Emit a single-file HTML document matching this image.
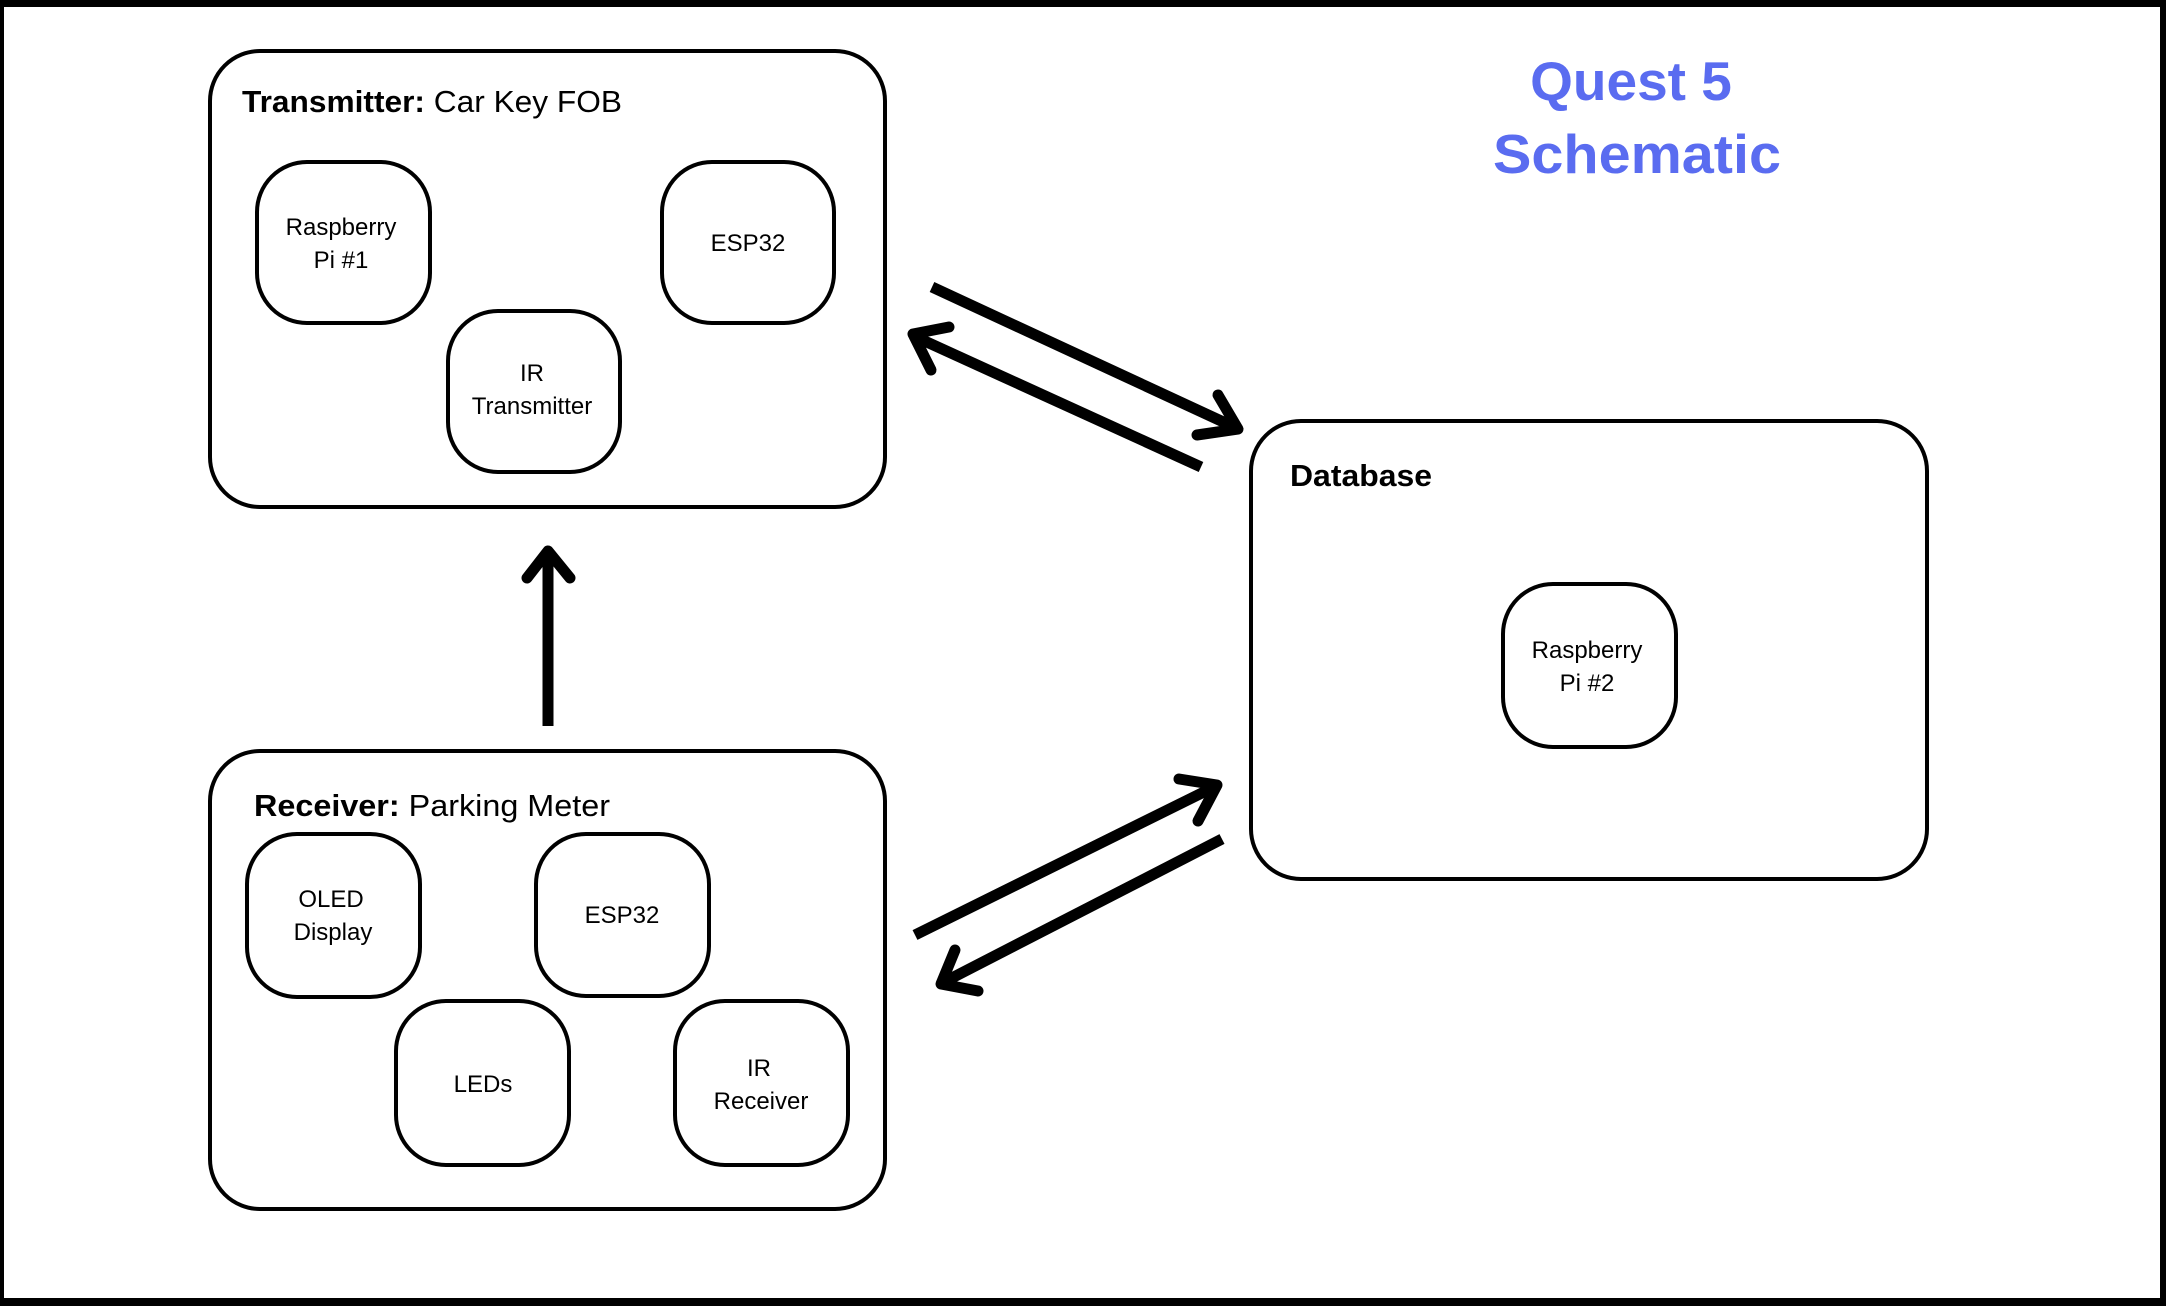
<!DOCTYPE html>
<html><head><meta charset="utf-8"><style>
html,body{margin:0;padding:0;background:#fff}
svg{display:block}
text{font-family:"Liberation Sans",sans-serif;fill:#000}
</style></head><body>
<svg width="2166" height="1306" viewBox="0 0 2166 1306" xmlns="http://www.w3.org/2000/svg">
<rect x="0" y="0" width="2166" height="1306" fill="#000"/>
<rect x="4" y="7" width="2156" height="1291" fill="#fff"/>

<g fill="none" stroke="#000" stroke-width="4">
<rect x="210" y="51" width="675" height="456" rx="50"/>
<rect x="257" y="162" width="173" height="161" rx="50"/>
<rect x="662" y="162" width="172" height="161" rx="50"/>
<rect x="448" y="311" width="172" height="161" rx="50"/>

<rect x="210" y="751" width="675" height="458" rx="50"/>
<rect x="247" y="834" width="173" height="163" rx="50"/>
<rect x="536" y="834" width="173" height="162" rx="50"/>
<rect x="396" y="1001" width="173" height="164" rx="50"/>
<rect x="675" y="1001" width="173" height="164" rx="50"/>

<rect x="1251" y="421" width="676" height="458" rx="50"/>
<rect x="1503" y="584" width="173" height="163" rx="50"/>
</g>

<g font-size="31">
<text x="242" y="112" textLength="380" lengthAdjust="spacingAndGlyphs"><tspan font-weight="bold">Transmitter:</tspan> Car Key FOB</text>
<text x="254" y="816" textLength="356" lengthAdjust="spacingAndGlyphs"><tspan font-weight="bold">Receiver:</tspan> Parking Meter</text>
<text x="1290" y="486" font-weight="bold" textLength="142" lengthAdjust="spacingAndGlyphs">Database</text>
</g>

<g font-size="24" text-anchor="middle">
<text x="341" y="235">Raspberry</text><text x="341" y="268">Pi #1</text>
<text x="748" y="251">ESP32</text>
<text x="532" y="381">IR</text><text x="532" y="414">Transmitter</text>
<text x="331" y="907">OLED</text><text x="333" y="940">Display</text>
<text x="622" y="923">ESP32</text>
<text x="483" y="1092">LEDs</text>
<text x="759" y="1076">IR</text><text x="761" y="1109">Receiver</text>
<text x="1587" y="658">Raspberry</text><text x="1587" y="691">Pi #2</text>
</g>

<g font-size="55" font-weight="bold" text-anchor="middle">
<text x="1631" y="100" style="fill:#5a6cf0">Quest 5</text>
<text x="1637" y="173" style="fill:#5a6cf0" textLength="288" lengthAdjust="spacingAndGlyphs">Schematic</text>
</g>

<g fill="none" stroke="#000" stroke-width="11" stroke-linecap="butt">
<line x1="548" y1="726" x2="548" y2="556"/>
<line x1="932" y1="287" x2="1232" y2="426"/>
<line x1="1201" y1="467" x2="918" y2="338"/>
<line x1="915" y1="935" x2="1212" y2="788"/>
<line x1="1222" y1="839" x2="946" y2="981"/>
</g>
<g fill="none" stroke="#000" stroke-width="11" stroke-linecap="round" stroke-linejoin="round">
<polyline points="527,578 548,551 570,578"/>
<polyline points="1218,395 1238,429 1197,435"/>
<polyline points="949,327 913,334 931,370"/>
<polyline points="1179,779 1217,785 1198,821"/>
<polyline points="955,950 941,984 978,991"/>
</g>
</svg>
</body></html>
